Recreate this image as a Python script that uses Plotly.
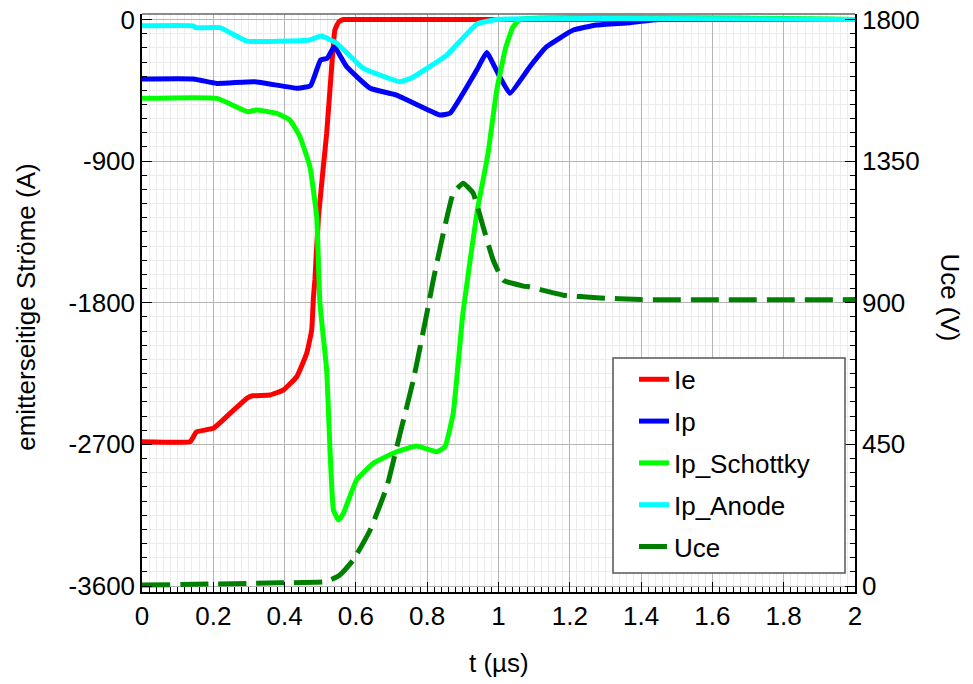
import plotly.graph_objects as go

# ---- data (t in µs, currents in A, voltage in V) ----
t_ie = [0, 0.135, 0.142, 0.153, 0.2, 0.247, 0.294, 0.31, 0.359, 0.396, 0.434, 0.462, 0.476, 0.481, 0.485, 0.495, 0.518, 0.532, 0.541, 0.552, 0.565, 0.6, 2.0]
ie = [-2683, -2683, -2660, -2620, -2598, -2503, -2407, -2391, -2386, -2355, -2270, -2121, -1973, -1762, -1655, -1253, -723, -300, -67, -15, 0, 0, 0]

t_ip = [0, 0.144, 0.21, 0.316, 0.437, 0.473, 0.501, 0.52, 0.539, 0.574, 0.64, 0.714, 0.836, 0.864, 0.939, 0.967, 0.998, 1.032, 1.088, 1.135, 1.21, 1.275, 1.369, 1.45, 2.0]
ip = [-378, -378, -406, -395, -437, -420, -257, -246, -173, -300, -437, -480, -607, -596, -321, -210, -340, -469, -300, -173, -67, -35, -20, 0, 0]

t_ips = [0, 0.21, 0.297, 0.32, 0.378, 0.415, 0.443, 0.471, 0.49, 0.499, 0.518, 0.527, 0.537, 0.551, 0.565, 0.602, 0.649, 0.714, 0.77, 0.827, 0.85, 0.873, 0.9, 0.94, 0.97, 0.995, 1.02, 1.04, 1.06, 2.0]
ips = [-501, -501, -586, -575, -596, -639, -745, -935, -1253, -1800, -2227, -2715, -3117, -3181, -3138, -2926, -2820, -2747, -2710, -2747, -2715, -2503, -1870, -1220, -860, -450, -180, -50, 0, 0]

t_ipa = [0, 0.144, 0.15, 0.219, 0.294, 0.47, 0.504, 0.546, 0.62, 0.724, 0.756, 0.855, 0.939, 0.996, 2.0]
ipa = [-40, -40, -52, -52, -137, -130, -105, -151, -309, -395, -372, -226, -29, 0, 0]

t_uce = [0, 0.387, 0.518, 0.555, 0.593, 0.64, 0.687, 0.724, 0.761, 0.799, 0.817, 0.845, 0.873, 0.901, 0.929, 0.957, 0.985, 1.013, 1.07, 1.088, 1.182, 1.275, 1.4, 2.0]
uce = [3, 10, 14, 35, 83, 178, 316, 485, 654, 866, 972, 1120, 1248, 1280, 1248, 1141, 1036, 972, 953, 950, 924, 916, 910, 910]

y_left_ticks = [0, -900, -1800, -2700, -3600]
y_left_labels = ["0", "-900", "-1800", "-2700", "-3600"]
y_right_ticks = [0, 450, 900, 1350, 1800]
x_ticks = [0, 0.2, 0.4, 0.6, 0.8, 1, 1.2, 1.4, 1.6, 1.8, 2]
x_labels = ["0", "0.2", "0.4", "0.6", "0.8", "1", "1.2", "1.4", "1.6", "1.8", "2"]

FONT = "Liberation Sans, Arial, sans-serif"
SM = 0.35

fig = go.Figure()
fig.add_trace(go.Scatter(x=t_ie, y=ie, mode="lines", name="Ie", legendgroup="a",
                         line=dict(color="#ff0000", width=5, shape="spline", smoothing=SM)))
fig.add_trace(go.Scatter(x=t_ip, y=ip, mode="lines", name="Ip", legendgroup="b",
                         line=dict(color="#0000ff", width=5, shape="spline", smoothing=SM)))
fig.add_trace(go.Scatter(x=t_ips, y=ips, mode="lines", name="Ip_Schottky", legendgroup="c",
                         line=dict(color="#00ff00", width=5, shape="spline", smoothing=SM)))
fig.add_trace(go.Scatter(x=t_ipa, y=ipa, mode="lines", name="Ip_Anode", legendgroup="d",
                         line=dict(color="#00ffff", width=5, shape="spline", smoothing=SM)))
fig.add_trace(go.Scatter(x=t_uce, y=uce, mode="lines", name="Uce", yaxis="y2", legendgroup="e",
                         line=dict(color="#008000", width=5, dash="28px,10px", shape="spline", smoothing=SM)))

fig.update_layout(
    width=973, height=684,
    margin=dict(l=142, r=118, t=14, b=92, autoexpand=False),
    paper_bgcolor="white", plot_bgcolor="white",
    font=dict(family=FONT, size=26, color="black"),
    showlegend=True,
    legend=dict(x=0.690, y=0.4085, xanchor="left", yanchor="top",
                bgcolor="rgba(0,0,0,0)", borderwidth=0,
                font=dict(size=26, family=FONT),
                tracegroupgap=5, traceorder="grouped"),
    xaxis=dict(range=[0, 2], tickmode="array", tickvals=x_ticks, ticktext=x_labels,
               ticks="inside", ticklen=10, automargin=False, ticklabeloverflow="allow",
               tickcolor="black", showline=True, linecolor="black", linewidth=1.5,
               showgrid=True, gridcolor="#b4b4b4", gridwidth=1, zeroline=False,
               minor=dict(dtick=0.02, tick0=0, ticks="inside", ticklen=5, tickcolor="black",
                          showgrid=True, gridcolor="#ececec", gridwidth=1),
               tickfont=dict(size=26)),
    yaxis=dict(range=[-3638, 35], tickmode="array", tickvals=y_left_ticks, ticktext=y_left_labels,
               ticks="inside", ticklen=10, automargin=False, ticklabeloverflow="allow",
               tickcolor="black", showline=True, linecolor="black", linewidth=1.5,
               showgrid=True, gridcolor="#b4b4b4", gridwidth=1, zeroline=False,
               minor=dict(dtick=90, tick0=0, ticks="inside", ticklen=5, tickcolor="black",
                          showgrid=True, gridcolor="#ececec", gridwidth=1),
               tickfont=dict(size=26)),
    yaxis2=dict(range=[-19, 1817.5], tickmode="array", tickvals=y_right_ticks,
                overlaying="y", side="right", automargin=False, ticklabeloverflow="allow",
                ticks="inside", ticklen=10, tickcolor="black", showline=True,
                linecolor="black", linewidth=1.5, showgrid=False, zeroline=False,
                minor=dict(dtick=45, tick0=0, ticks="inside", ticklen=5, tickcolor="black"),
                tickfont=dict(size=26)),
    shapes=[
        dict(type="line", xref="paper", yref="paper", x0=0, x1=1, y0=1, y1=1,
             line=dict(color="#666666", width=1.5)),
        dict(type="rect", xref="paper", yref="paper", x0=0.6606, x1=0.986, y0=0.0329, y1=0.4048,
             fillcolor="white", line=dict(color="#555555", width=1.5), layer="above"),
    ],
    annotations=[
        dict(text="t (µs)", xref="paper", yref="paper", x=0.5007, y=-0.123,
             xanchor="center", yanchor="middle", showarrow=False, font=dict(size=26)),
        dict(text="emitterseitige Ströme (A)", xref="paper", yref="paper", x=-0.163, y=0.493,
             xanchor="center", yanchor="middle", showarrow=False, textangle=-90, font=dict(size=26)),
        dict(text="Uce (V)", xref="paper", yref="paper", x=1.133, y=0.510,
             xanchor="center", yanchor="middle", showarrow=False, textangle=90, font=dict(size=26)),
    ],
)

fig.write_html("out.html", config={"displayModeBar": False},
               post_script="document.body.style.margin='0px';")
